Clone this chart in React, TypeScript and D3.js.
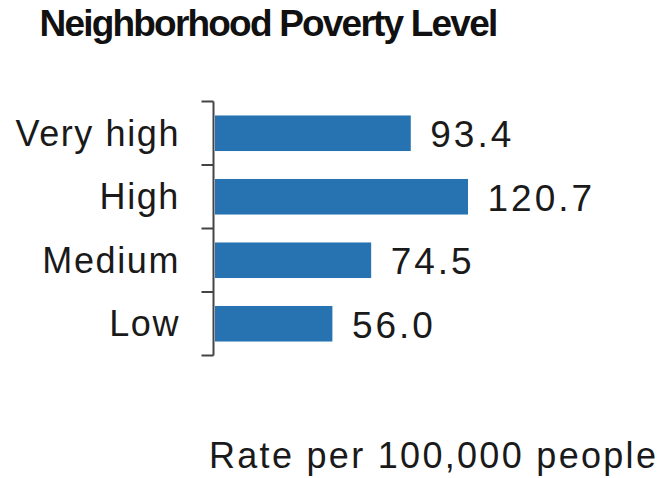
import React from "react";
import * as d3 from "d3";

const categories = ["Very high", "High", "Medium", "Low"];
const values = [93.4, 120.7, 74.5, 56.0];
const valueLabels = ["93.4", "120.7", "74.5", "56.0"];
const title = "Neighborhood Poverty Level";
const axisTitle = "Rate per 100,000 people";

const W = 666;
const H = 478;
const FONT = "'Liberation Sans', Arial, sans-serif";

export default function App() {
  const y = d3
    .scaleBand<string>()
    .domain(categories)
    .range([101.5, 355.5])
    .paddingInner(0.44)
    .paddingOuter(0.22);
  const x = d3.scaleLinear().domain([0, 120.7]).range([215, 468]);
  const step = y.step();
  const bw = y.bandwidth();
  const axisX = 213.5;
  const tickYs = d3.range(categories.length + 1).map((k) => 101.5 + k * step);

  return (
    <svg
      width={W}
      height={H}
      viewBox={`0 0 ${W} ${H}`}
      style={{ position: "absolute", left: 0, top: 0, background: "#fff" }}
    >
      <text
        x={39.5}
        y={36}
        fontFamily={FONT}
        fontWeight="bold"
        fontSize={37}
        letterSpacing={-1.8}
        fill="#111"
      >
        {title}
      </text>

      {categories.map((c, i) => (
        <rect
          key={c}
          x={x(0)}
          y={y(c)!}
          width={x(values[i]) - x(0)}
          height={bw}
          fill="#2772b0"
        />
      ))}

      <line x1={axisX} x2={axisX} y1={tickYs[0]} y2={tickYs[tickYs.length - 1]} stroke="#444" strokeWidth={2} />
      {tickYs.map((t, i) => (
        <line key={i} x1={axisX - 12} x2={axisX} y1={t} y2={t} stroke="#444" strokeWidth={2} />
      ))}

      {categories.map((c) => (
        <text
          key={c}
          x={180}
          y={y(c)! + bw / 2 + 12.5}
          textAnchor="end"
          fontFamily={FONT}
          fontSize={36}
          letterSpacing={1.6}
          fill="#1a1a1a"
        >
          {c}
        </text>
      ))}

      {categories.map((c, i) => (
        <text
          key={c}
          x={x(values[i]) + 19.5}
          y={y(c)! + bw / 2 + 14}
          fontFamily={FONT}
          fontSize={37}
          letterSpacing={3}
          fill="#1a1a1a"
        >
          {valueLabels[i]}
        </text>
      ))}

      <text
        x={209}
        y={467.7}
        fontFamily={FONT}
        fontSize={36}
        letterSpacing={2.3}
        fill="#1a1a1a"
      >
        {axisTitle}
      </text>
    </svg>
  );
}
